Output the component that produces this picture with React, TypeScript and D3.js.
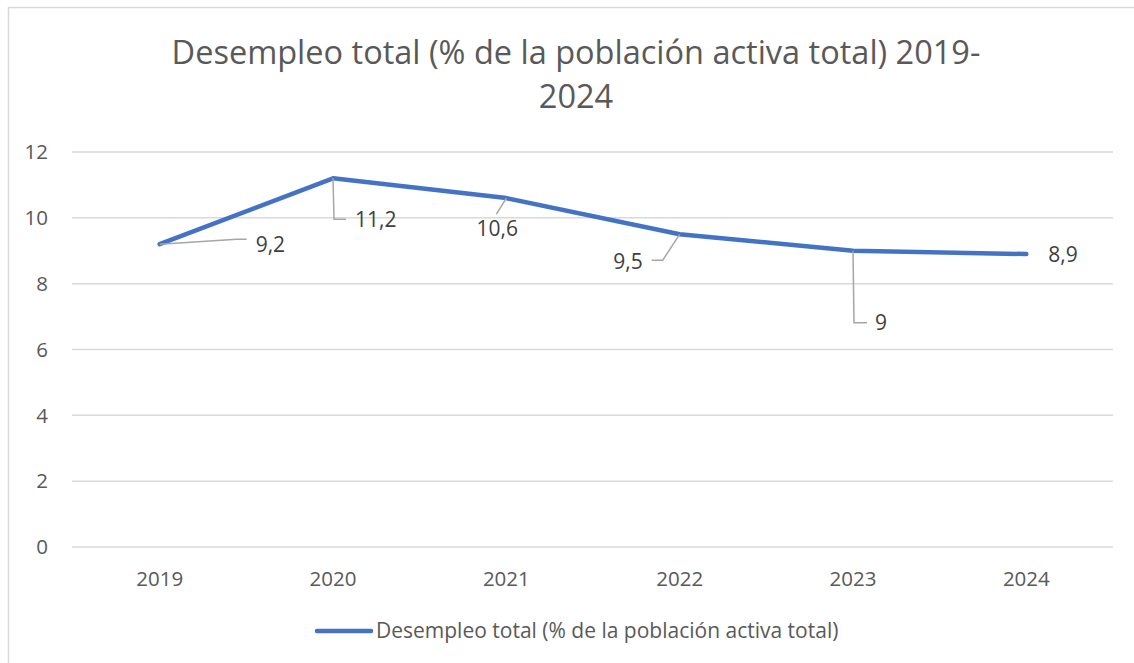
import React from 'react';
import * as d3 from 'd3';

// data
const years = ['2019', '2020', '2021', '2022', '2023', '2024'];
const desempleo = [9.2, 11.2, 10.6, 9.5, 9, 8.9];
const yTicks = [0, 2, 4, 6, 8, 10, 12];
const titleLines = ['Desempleo total (% de la población activa total) 2019-', '2024'];
const seriesName = 'Desempleo total (% de la población activa total)';

// where each data label was dragged to (offsets from its point), with its leader line
const labelLayout = [
  { dx: 96, dy: 0, anchor: 'start', leader: [[0, 0], [77, -5], [87, -5]] },
  { dx: 22, dy: 41, anchor: 'start', leader: [[0, 0], [1, 41], [13, 41]] },
  { dx: -9, dy: 31, anchor: 'middle', leader: [[0, 0], [-10, 16]] },
  { dx: -37, dy: 27, anchor: 'end', leader: [[0, 0], [-17, 26], [-28, 26]] },
  { dx: 22, dy: 72, anchor: 'start', leader: [[0, 0], [1, 72], [14, 72]] },
  { dx: 22, dy: 1, anchor: 'start', leader: null },
];

const W = 1134;
const H = 663;
const FONT = '"Open Sans", sans-serif';
const BLUE = '#4472C4';
const GRID = '#d9d9d9';
const TXT = '#595959';

const fmt = (v: number) => String(v).replace('.', ',');

export default function App() {
  const x = d3.scaleBand().domain(years).range([73, 1113]).padding(0);
  const y = d3.scaleLinear().domain([0, 12]).range([547, 152]);
  const cx = (yr: string) => (x(yr) as number) + x.bandwidth() / 2;

  const line = d3.line<number>()
    .x((_, i) => cx(years[i]))
    .y(d => y(d))
    .curve(d3.curveLinear);

  return (
    <svg width={W} height={H} style={{ position: 'absolute', left: 0, top: 0, background: '#fff' }} fontFamily={FONT}>
      <rect x={8.5} y={7.5} width={W + 20} height={H + 20} fill="#fff" stroke={GRID} strokeWidth={1.5} />

      {/* Title */}
      {titleLines.map((t, i) => (
        <text key={i} x={576} y={64 + i * 44} textAnchor="middle" fontSize={32.5} fill={TXT}>{t}</text>
      ))}

      {/* gridlines + y labels */}
      {yTicks.map(t => (
        <g key={t}>
          <line x1={72} x2={1113} y1={y(t)} y2={y(t)} stroke={GRID} strokeWidth={1.5} />
          <text x={48} y={y(t)} dy="0.35em" textAnchor="end" fontSize={20.5} fill={TXT}>{t}</text>
        </g>
      ))}

      {/* x labels */}
      {years.map(yr => (
        <text key={yr} x={cx(yr)} y={586} textAnchor="middle" fontSize={20.5} fill={TXT}>{yr}</text>
      ))}

      {/* series */}
      <path d={line(desempleo) || ''} fill="none" stroke={BLUE} strokeWidth={4.5} strokeLinecap="round" strokeLinejoin="round" />

      {/* data labels with leader lines */}
      {desempleo.map((v, i) => {
        const px = cx(years[i]);
        const py = y(v);
        const l = labelLayout[i];
        return (
          <g key={i}>
            {l.leader && (
              <polyline
                points={l.leader.map(p => `${px + p[0]},${py + p[1]}`).join(' ')}
                fill="none" stroke="#a6a6a6" strokeWidth={1.5}
              />
            )}
            <text x={px + l.dx} y={py + l.dy} dy="0.35em" textAnchor={l.anchor as any} fontSize={21} fill="#404040">{fmt(v)}</text>
          </g>
        );
      })}

      {/* legend */}
      <line x1={317} x2={371} y1={631} y2={631} stroke={BLUE} strokeWidth={4.5} strokeLinecap="round" />
      <text x={376} y={631} dy="0.35em" fontSize={21} fill={TXT}>{seriesName}</text>
    </svg>
  );
}
